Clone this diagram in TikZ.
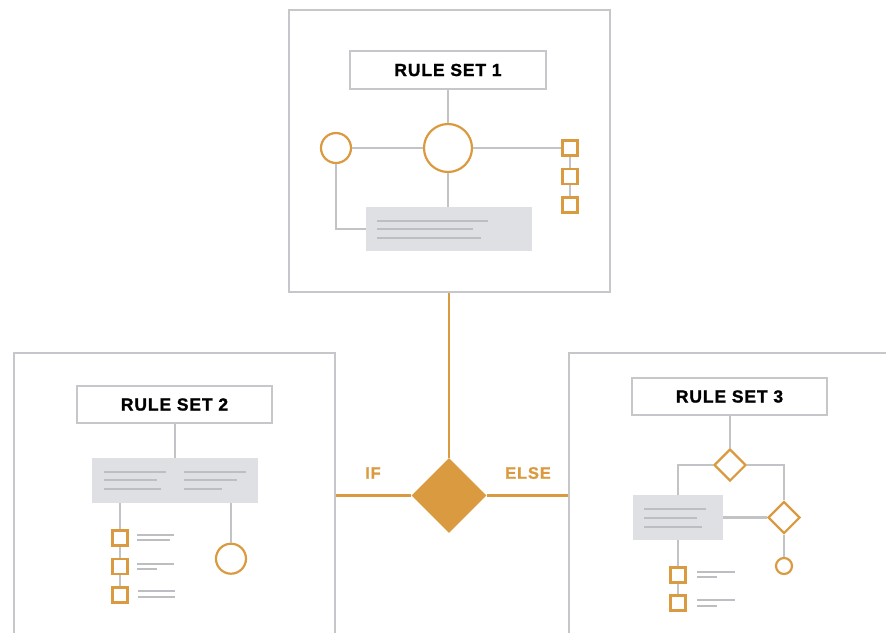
\documentclass[tikz,border=0pt]{standalone}
\usepackage{fontspec}
\usetikzlibrary{shapes.geometric}
\newfontfamily\lblfont[LetterSpace=5,FakeBold=1.2]{Liberation Sans Bold}
\definecolor{orng}{HTML}{DA9A40}
\definecolor{framegray}{HTML}{C6C7CA}
\definecolor{linegray}{HTML}{C2C3C6}
\definecolor{boxgray}{HTML}{DFE0E3}
\definecolor{txtgray}{HTML}{BDBEC2}
\tikzset{
  frame/.style={draw=framegray, line width=2pt, rectangle, inner sep=0pt},
  titlebox/.style={draw=framegray, line width=2.2pt, fill=white, rectangle, inner sep=0pt,
     minimum width=195pt, minimum height=37pt, font=\lblfont\fontsize{17.5}{19}\selectfont, text=black},
  ocirc/.style={circle, draw=orng, line width=2.2pt, fill=white, inner sep=0pt},
  osq/.style={rectangle, draw=orng, line width=2.2pt, fill=white, inner sep=0pt, minimum size=15pt},
  odia/.style={diamond, draw=orng, line width=2.2pt, fill=white, inner sep=0pt, aspect=1},
  graybox/.style={rectangle, fill=boxgray, inner sep=0pt},
  conn/.style={draw=linegray, line width=2.2pt},
  mainconn/.style={draw=orng, line width=2.2pt},
  txtline/.style={draw=txtgray, line width=2pt},
  iflabel/.style={font=\lblfont\fontsize{16.5}{18}\selectfont, text=orng},
}
\begin{document}
\begin{tikzpicture}[x=1pt,y=-1pt]
\useasboundingbox (0,0) rectangle (886,632);
\clip (0,0) rectangle (886,632);

% ---------- outer frames ----------
\node[frame, minimum width=321pt, minimum height=282pt] (frame1) at (449.5,151) {};
\node[frame, minimum width=321pt, minimum height=300pt] (frame2) at (174.5,503) {};
\node[frame, minimum width=321pt, minimum height=300pt] (frame3) at (729.5,503) {};

% ---------- central decision ----------
\node[diamond, fill=orng, inner sep=0pt, minimum width=75pt, minimum height=75pt, aspect=1] (dia) at (449,495.5) {};
\draw[mainconn] (dia.north |- frame1.south) -- (dia.north);
\draw[mainconn] (dia.west) -- (dia.west -| frame2.east);
\draw[mainconn] (dia.east) -- (dia.east -| frame3.west);
\node[iflabel] (iflbl) at (373,473) {IF};
\node[iflabel] (elselbl) at (528,473) {ELSE};

% ---------- rule set 1 ----------
\node[titlebox, minimum width=196pt, minimum height=38pt] (t1) at (448,70) {RULE SET 1};
\node[ocirc, minimum size=48pt] (bc) at (448,148) {};
\node[ocirc, minimum size=30pt] (sc) at (336,148) {};
\node[osq] (sq1) at (570,148) {};
\node[osq] (sq2) at (570,176.5) {};
\node[osq] (sq3) at (570,205) {};
\node[graybox, minimum width=166pt, minimum height=44pt] (gr1) at (449,229) {};
\draw[conn] (t1.south -| bc.north) -- (bc.north);
\draw[conn] (sc.east) -- (bc.west);
\draw[conn] (bc.east) -- (sq1.west);
\draw[conn] (sq1.south) -- (sq2.north);
\draw[conn] (sq2.south) -- (sq3.north);
\draw[conn] (bc.south) -- (bc.south |- gr1.north);
\draw[conn] (sc.south) |- (gr1.west);
\draw[txtline] (377,220.7) -- (488,220.7);
\draw[txtline] (377,229.3) -- (473,229.3);
\draw[txtline] (377,238) -- (481,238);

% ---------- rule set 2 ----------
\node[titlebox] (t2) at (174.5,404.5) {RULE SET 2};
\node[graybox, minimum width=166pt, minimum height=45pt] (gr2) at (175,480.5) {};
\node[osq] (sq4) at (120,538) {};
\node[osq] (sq5) at (120,566.5) {};
\node[osq] (sq6) at (120,595) {};
\node[ocirc, minimum size=30pt] (c3) at (231,558.7) {};
\draw[conn] (t2.south -| gr2.north) -- (gr2.north);
\draw[conn] (sq4.north |- gr2.south) -- (sq4.north);
\draw[conn] (sq4.south) -- (sq5.north);
\draw[conn] (sq5.south) -- (sq6.north);
\draw[conn] (c3.north |- gr2.south) -- (c3.north);
\draw[txtline] (104,471.7) -- (166,471.7);
\draw[txtline] (104,480.3) -- (157,480.3);
\draw[txtline] (104,489) -- (161,489);
\draw[txtline] (184,471.7) -- (246,471.7);
\draw[txtline] (184,480.3) -- (237,480.3);
\draw[txtline] (184,489) -- (222,489);
\draw[txtline] (137,535) -- (174,535);
\draw[txtline] (137,540.3) -- (170,540.3);
\draw[txtline] (137,563.7) -- (174,563.7);
\draw[txtline] (137,569.3) -- (157,569.3);
\draw[txtline] (138,591.3) -- (175,591.3);
\draw[txtline] (138,596.7) -- (175,596.7);

% ---------- rule set 3 ----------
\node[titlebox] (t3) at (729.5,396.5) {RULE SET 3};
\node[odia, minimum width=32pt, minimum height=32pt] (d1) at (730,465) {};
\node[odia, minimum width=32pt, minimum height=32pt] (d2) at (784,517.5) {};
\node[graybox, minimum width=90pt, minimum height=45pt] (gr3) at (678,517.5) {};
\node[ocirc, minimum size=16pt] (c4) at (784,566) {};
\node[osq] (sq7) at (678,575) {};
\node[osq] (sq8) at (678,603) {};
\draw[conn] (t3.south -| d1.north) -- (d1.north);
\draw[conn] (d1.west) -| (gr3.north);
\draw[conn] (d1.east) -| (d2.north);
\draw[conn] (gr3.east) -- (d2.west);
\draw[conn] (d2.south) -- (c4.north);
\draw[conn] (gr3.south) -- (sq7.north);
\draw[conn] (sq7.south) -- (sq8.north);
\draw[txtline] (644,509) -- (706,509);
\draw[txtline] (644,517.7) -- (697,517.7);
\draw[txtline] (644,526.7) -- (702,526.7);
\draw[txtline] (697,571.7) -- (735,571.7);
\draw[txtline] (697,577.3) -- (717,577.3);
\draw[txtline] (697,600.3) -- (735,600.3);
\draw[txtline] (697,606) -- (717,606);
\end{tikzpicture}
\end{document}
